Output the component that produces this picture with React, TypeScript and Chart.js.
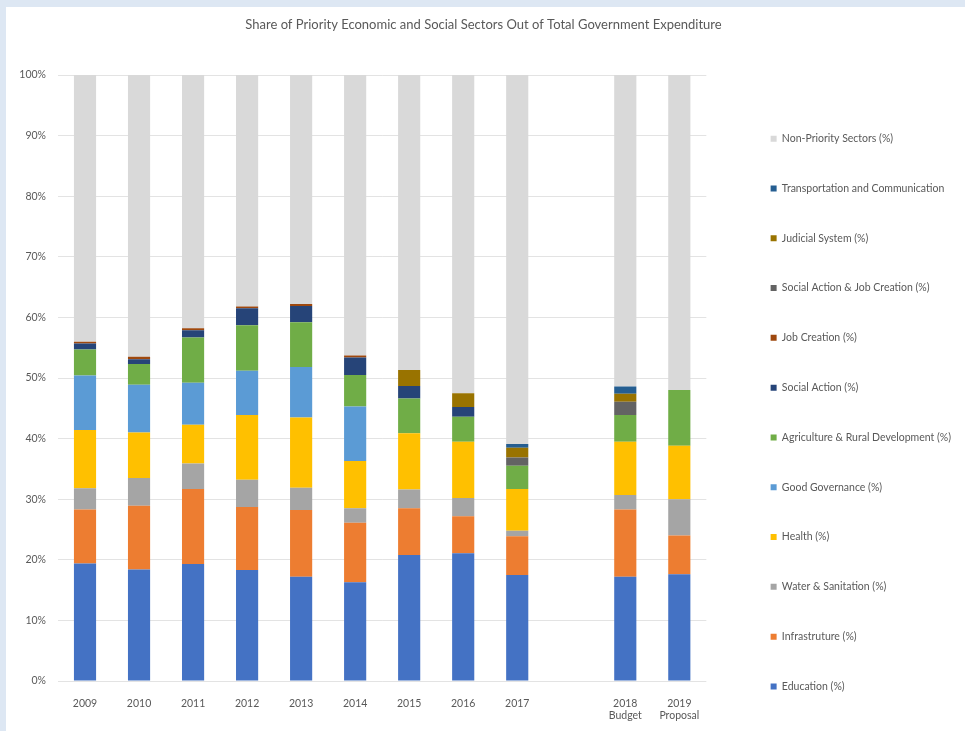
import { useEffect, useRef } from 'react';
import { Chart, registerables } from 'chart.js';

Chart.register(...registerables);

const years = ['2009', '2010', '2011', '2012', '2013', '2014', '2015', '2016', '2017', '', ['2018', 'Budget'], ['2019', 'Proposal']];

const education = [19.4, 18.4, 19.3, 18.3, 17.2, 16.3, 20.8, 21.1, 17.5, null, 17.2, 17.6];
const infrastructure = [8.9, 10.5, 12.4, 10.4, 11.0, 9.8, 7.7, 6.1, 6.4, null, 11.1, 6.4];
const water = [3.5, 4.6, 4.2, 4.5, 3.7, 2.4, 3.1, 3.0, 0.9, null, 2.4, 6.0];
const health = [9.6, 7.5, 6.4, 10.7, 11.6, 7.8, 9.3, 9.3, 6.9, null, 8.8, 8.8];
const governance = [9.0, 7.9, 6.9, 7.3, 8.3, 9.0, 0, 0, 0, null, 0, 0];
const agriculture = [4.3, 3.4, 7.5, 7.5, 7.4, 5.2, 5.7, 4.1, 3.8, null, 4.4, 9.2];
const socialAction = [1.0, 0.8, 1.2, 2.8, 2.7, 2.9, 2.1, 1.6, 0, null, 0, 0];
const jobCreation = [0.3, 0.4, 0.3, 0.3, 0.3, 0.3, 0, 0, 0, null, 0, 0];
const socialJob = [0, 0, 0, 0, 0, 0, 0, 0, 1.4, null, 2.2, 0];
const judicial = [0, 0, 0, 0, 0, 0, 2.6, 2.3, 1.6, null, 1.3, 0];
const transport = [0, 0, 0, 0, 0, 0, 0, 0, 0.6, null, 1.2, 0];
const nonPriority = [44.0, 46.5, 41.8, 38.2, 37.8, 46.3, 48.7, 52.5, 60.9, null, 51.4, 52.0];

const yTicks = [0, 10, 20, 30, 40, 50, 60, 70, 80, 90, 100];

const series = [
    { label: 'Education (%)', data: education, color: '#4472C4' },
    { label: 'Infrastruture (%)', data: infrastructure, color: '#ED7D31' },
    { label: 'Water & Sanitation (%)', data: water, color: '#A5A5A5' },
    { label: 'Health (%)', data: health, color: '#FFC000' },
    { label: 'Good Governance (%)', data: governance, color: '#5B9BD5' },
    { label: 'Agriculture & Rural Development (%)', data: agriculture, color: '#70AD47' },
    { label: 'Social Action (%)', data: socialAction, color: '#264478' },
    { label: 'Job Creation (%)', data: jobCreation, color: '#9E480E' },
    { label: 'Social Action & Job Creation (%)', data: socialJob, color: '#636363' },
    { label: 'Judicial System (%)', data: judicial, color: '#997300' },
    { label: 'Transportation and Communication', data: transport, color: '#255E91' },
    { label: 'Non-Priority Sectors (%)', data: nonPriority, color: '#D9D9D9' },
];

export default function App() {
    const canvasRef = useRef<HTMLCanvasElement | null>(null);

    useEffect(() => {
        if (!canvasRef.current) {
            return;
        }
        Chart.defaults.font.family = 'Lato';

        const chart = new Chart(canvasRef.current, {
            type: 'bar',
            data: {
                labels: years,
                datasets: series.map((s) => ({
                    label: s.label,
                    data: s.data,
                    backgroundColor: s.color,
                    borderWidth: 0,
                    categoryPercentage: 1,
                    barPercentage: 0.41,
                })),
            },
            options: {
                animation: false,
                responsive: true,
                maintainAspectRatio: false,
                layout: { padding: { right: 4 } },
                plugins: {
                    title: {
                        display: true,
                        text: 'Share of Priority Economic and Social Sectors Out of Total Government Expenditure',
                        color: '#595959',
                        font: { size: 13, weight: 'normal' },
                        padding: { top: 10, bottom: 42.4 },
                    },
                    legend: {
                        position: 'right',
                        align: 'end',
                        reverse: true,
                        maxWidth: 233,
                        labels: {
                            boxWidth: 6,
                            boxHeight: 6,
                            padding: 39.3,
                            color: '#595959',
                            font: { size: 10.5 },
                        },
                    },
                    tooltip: { enabled: false },
                },
                scales: {
                    x: {
                        stacked: true,
                        grid: { display: false },
                        border: { display: false },
                        ticks: { color: '#595959', font: { size: 10.5 }, padding: 8, maxRotation: 0, autoSkip: false },
                        afterFit: (s: any) => { s.height = 50; },
                    },
                    y: {
                        stacked: true,
                        min: 0,
                        max: 100,
                        afterBuildTicks: (s: any) => { s.ticks = yTicks.map((v) => ({ value: v })); },
                        grid: { color: '#e3e3e3', drawTicks: false },
                        border: { display: false },
                        ticks: {
                            color: '#595959',
                            font: { size: 10.5 },
                            padding: 12,
                            callback: (v: any) => v + '%',
                        },
                        afterFit: (s: any) => { s.width = 52; },
                    },
                    gap: {
                        type: 'linear',
                        position: 'right',
                        grid: { display: false },
                        border: { display: false },
                        ticks: { display: false },
                        afterFit: (s: any) => { s.width = 25; },
                    },
                },
            },
        });
        return () => chart.destroy();
    }, []);

    return (
        <div style={{ position: 'absolute', left: 0, top: 0, width: 965, height: 731, background: '#dde7f3', overflow: 'hidden' }}>
            <div style={{ position: 'absolute', left: 6, top: 7, width: 959, height: 724, background: '#fff' }}>
                <canvas ref={canvasRef} />
            </div>
        </div>
    );
}
